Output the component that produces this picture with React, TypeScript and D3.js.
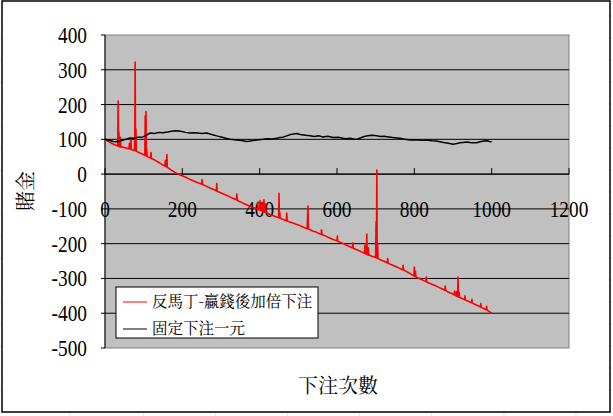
import * as d3 from 'd3'

// 反馬丁 series: [bet number, money]
const redSeries: [number, number][] = [
  [0, 100], [6, 96], [12, 92], [18, 88], [24, 85], [30, 82], [33, 81], [34, 210], [35, 80], [36, 122], [37, 79],
  [39, 78], [40, 106], [41, 77], [46, 78], [52, 76], [58, 74], [62, 73], [63, 88], [64, 72], [66, 72], [67, 104],
  [68, 71], [72, 69], [76, 68], [77, 108], [78, 322], [79, 67], [80, 130], [81, 66], [86, 63], [92, 60], [98, 57],
  [103, 54], [104, 168], [105, 53], [106, 180], [107, 52], [108, 72], [109, 51], [114, 48], [118, 46], [119, 62],
  [120, 45], [126, 42], [132, 38], [138, 34], [144, 30], [150, 26], [155, 23], [156, 40], [157, 22], [159, 21],
  [160, 56], [161, 20], [166, 16], [172, 11], [178, 7], [181, 5], [186, 2], [192, -1], [198, -4], [204, -7],
  [210, -10], [216, -13], [222, -16], [228, -19], [234, -22], [240, -25], [246, -27], [250, -29], [251, -16],
  [252, -30], [258, -33], [264, -36], [270, -39], [276, -42], [282, -45], [288, -48], [289, -27], [290, -49],
  [296, -52], [302, -55], [308, -58], [314, -61], [320, -64], [326, -67], [332, -70], [338, -73], [340, -74],
  [341, -57], [342, -75], [348, -79], [354, -82], [360, -85], [366, -88], [372, -91], [378, -94], [384, -96],
  [390, -99], [394, -101], [395, -80], [396, -102], [400, -103], [401, -76], [402, -104], [406, -106], [407, -82],
  [408, -107], [410, -108], [411, -74], [412, -109], [414, -110], [415, -86], [416, -111], [422, -114], [428, -117],
  [434, -119], [440, -122], [446, -124], [449, -125], [450, -55], [451, -126], [452, -110], [453, -127], [458, -129],
  [464, -132], [469, -134], [470, -112], [471, -135], [476, -137], [482, -139], [488, -141], [494, -144], [500, -146],
  [506, -149], [512, -152], [518, -155], [523, -157], [524, -120], [525, -92], [526, -158], [532, -161], [538, -164],
  [544, -166], [550, -169], [556, -172], [559, -173], [560, -160], [561, -174], [566, -176], [572, -179], [578, -182],
  [584, -185], [590, -188], [596, -190], [600, -192], [601, -178], [602, -193], [608, -196], [614, -199], [620, -202],
  [626, -205], [632, -208], [638, -211], [640, -212], [641, -198], [642, -213], [648, -216], [654, -219], [660, -222],
  [666, -225], [671, -228], [672, -205], [673, -229], [676, -230], [677, -172], [678, -231], [680, -232], [681, -212],
  [682, -233], [686, -234], [690, -236], [696, -238], [700, -240], [701, -137], [702, -241], [703, 12], [704, -242],
  [705, -200], [706, -243], [712, -246], [718, -249], [724, -252], [730, -255], [731, -243], [732, -256], [738, -259],
  [744, -262], [750, -265], [756, -268], [762, -271], [768, -274], [770, -275], [771, -262], [772, -276], [778, -279],
  [784, -283], [790, -287], [796, -291], [799, -293], [800, -267], [801, -294], [803, -280], [804, -295], [808, -298],
  [814, -301], [820, -304], [826, -307], [830, -309], [831, -296], [832, -310], [838, -313], [844, -316], [850, -319],
  [856, -322], [862, -325], [868, -328], [874, -331], [879, -334], [880, -322], [881, -335], [886, -338], [892, -341],
  [898, -344], [903, -347], [904, -336], [905, -348], [908, -350], [909, -338], [910, -351], [912, -352], [913, -296],
  [914, -353], [916, -340], [917, -354], [922, -357], [928, -360], [930, -361], [931, -350], [932, -362], [938, -365],
  [944, -368], [948, -370], [949, -360], [950, -371], [956, -374], [962, -377], [968, -380], [971, -382], [972, -372],
  [973, -383], [978, -386], [984, -389], [986, -390], [987, -380], [988, -391], [992, -394], [996, -397], [1000, -400],
]

// 固定下注一元 series
const blackSeries: [number, number][] = [
  [0, 100], [8, 98], [15, 96], [22, 94], [31, 93], [40, 96], [50, 99], [58, 102], [65, 104], [75, 103], [85, 106],
  [98, 107], [106, 111], [116, 118], [128, 117], [140, 120], [150, 119], [162, 121], [175, 124], [186, 125],
  [196, 123], [208, 120], [220, 118], [235, 119], [250, 117], [263, 118], [276, 114], [289, 110], [300, 107],
  [312, 103], [323, 100], [335, 99], [347, 97], [357, 96], [366, 94], [375, 95], [388, 97], [398, 99], [409, 100],
  [420, 102], [432, 101], [444, 103], [452, 105], [460, 106], [470, 110], [480, 114], [496, 117], [505, 114],
  [518, 112], [530, 110], [542, 108], [552, 110], [564, 107], [576, 109], [590, 105], [603, 106], [612, 104],
  [622, 102], [634, 103], [642, 101], [651, 100], [660, 104], [670, 108], [680, 110], [690, 112], [703, 110],
  [712, 108], [722, 109], [733, 107], [745, 105], [755, 104], [763, 103], [775, 100], [789, 98], [800, 99],
  [810, 98], [820, 97], [832, 98], [845, 96], [856, 95], [866, 93], [876, 91], [888, 89], [900, 86], [910, 88],
  [918, 90], [926, 91], [936, 92], [948, 90], [961, 90], [970, 93], [980, 95], [988, 96], [994, 94], [1000, 93],
]

const xTicks = [0, 200, 400, 600, 800, 1000, 1200]
const yTicks = [400, 300, 200, 100, 0, -100, -200, -300, -400, -500]
const legendLabels = ['反馬丁-贏錢後加倍下注', '固定下注一元']
const xTitle = '下注次數'
const yTitle = '賭金'

const W = 613
const H = 416
const plot = { left: 105, top: 35, right: 569, bottom: 348 }
const numFont = "'Liberation Serif'"
const cjkFont = "'Noto Serif CJK TC'"
const numStyle = { fontFamily: numFont, fontSize: 23 }

export default function App() {
  const x = d3.scaleLinear().domain([0, 1200]).range([plot.left, plot.right])
  const y = d3.scaleLinear().domain([-500, 400]).range([plot.bottom, plot.top])
  const line = d3
    .line<[number, number]>()
    .x(d => x(d[0]))
    .y(d => y(d[1]))

  const y0 = y(0)
  const sheetCols = [70, 143, 215, 287, 359, 431, 504, 576]
  const sheetRows = d3.range(16, H, 22)

  return (
    <svg
      width={W}
      height={H}
      style={{ position: 'absolute', left: 0, top: 0, display: 'block', background: '#fff' }}
    >
      {/* faint spreadsheet cells behind the chart */}
      {sheetCols.map(c => (
        <line key={'c' + c} x1={c} x2={c} y1={0} y2={H} stroke="#e4e4e4" />
      ))}
      {sheetRows.map(r => (
        <line key={'r' + r} x1={0} x2={W} y1={r} y2={r} stroke="#e4e4e4" />
      ))}
      <rect x={2} y={1} width={608} height={411} fill="#fff" stroke="#000" strokeWidth={1.5} />

      <rect
        x={plot.left}
        y={plot.top}
        width={plot.right - plot.left}
        height={plot.bottom - plot.top}
        fill="#c0c0c0"
        stroke="#808080"
      />
      {yTicks.slice(1, -1).map(t => (
        <line key={t} x1={plot.left} x2={plot.right} y1={y(t)} y2={y(t)} stroke="#000" />
      ))}
      <line x1={plot.left} x2={plot.left} y1={plot.top} y2={plot.bottom} stroke="#000" />
      {yTicks.map(t => (
        <line key={'yt' + t} x1={plot.left - 4} x2={plot.left} y1={y(t)} y2={y(t)} stroke="#000" />
      ))}
      {yTicks.map(t => (
        <text
          key={'yl' + t}
          transform={`translate(87, ${y(t)}) scale(0.84, 1)`}
          dy="0.35em"
          textAnchor="end"
          style={numStyle}
        >
          {t}
        </text>
      ))}

      {/* x axis crossing at 0 */}
      <line x1={plot.left} x2={plot.right} y1={y0} y2={y0} stroke="#000" />
      {xTicks.map(t => (
        <line key={'xt' + t} x1={x(t)} x2={x(t)} y1={y0 - 6} y2={y0} stroke="#000" />
      ))}
      {xTicks.map(t => (
        <text
          key={'xl' + t}
          transform={`translate(${x(t)}, ${y0 + 35}) scale(0.84, 1)`}
          dy="0.35em"
          textAnchor="middle"
          style={numStyle}
        >
          {t}
        </text>
      ))}

      <path d={line(redSeries) ?? ''} fill="none" stroke="#ff0000" strokeWidth={1.6} strokeLinejoin="round" />
      <path d={line(blackSeries) ?? ''} fill="none" stroke="#000" strokeWidth={1.5} strokeLinejoin="round" />

      {/* legend */}
      <rect x={116} y={287} width={202} height={51} fill="#fff" stroke="#000" />
      {legendLabels.map((l, i) => (
        <g key={l} transform={`translate(0, ${302 + i * 27})`}>
          <line x1={123} x2={147} y1={0} y2={0} stroke={i === 0 ? '#ff0000' : '#000'} />
          <text x={152} y={0} dy="0.35em" style={{ fontFamily: cjkFont, fontSize: 15.5 }}>
            {l}
          </text>
        </g>
      ))}

      <text x={338} y={386} dy="0.35em" textAnchor="middle" style={{ fontFamily: cjkFont, fontSize: 20 }}>
        {xTitle}
      </text>
      <text
        transform="translate(26, 191) rotate(-90)"
        dy="0.35em"
        textAnchor="middle"
        style={{ fontFamily: cjkFont, fontSize: 20 }}
      >
        {yTitle}
      </text>
    </svg>
  )
}
